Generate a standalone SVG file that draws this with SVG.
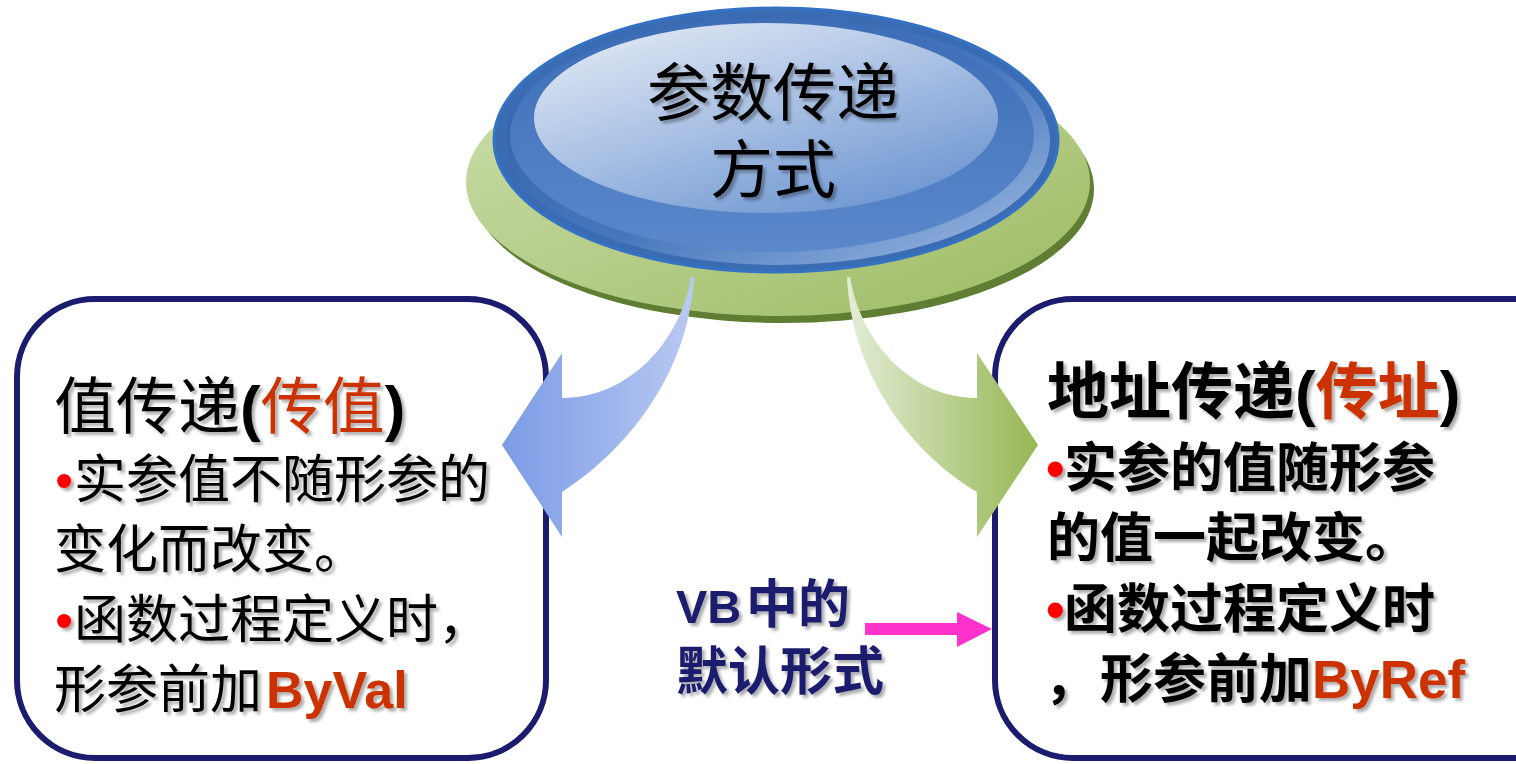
<svg xmlns="http://www.w3.org/2000/svg" width="1516" height="764" viewBox="0 0 1516 764">
<defs>
<style>
.cjk{font-family:"Noto Sans CJK SC","Noto Sans",sans-serif;fill:#000}
.lat{font-family:"Liberation Sans",Arial,sans-serif;font-weight:bold}
.red{fill:#cc3300}
.bul{fill:#ff0000;font-family:"Liberation Sans",Arial,sans-serif}
.box{fill:#ffffff;stroke:#1c1c6e;stroke-width:6}
.mid{font-family:"Noto Sans CJK SC","Noto Sans",sans-serif;fill:#1c1c6e;font-weight:bold}
</style>
<filter id="sh" x="-10%" y="-10%" width="130%" height="140%">
<feDropShadow dx="3" dy="3" stdDeviation="1.5" flood-color="#000" flood-opacity="0.32"/>
</filter>
<linearGradient id="gGreen" x1="0" y1="0" x2="1" y2="1">
<stop offset="0" stop-color="#cddfae"/>
<stop offset="1" stop-color="#9dbb62"/>
</linearGradient>
<linearGradient id="gBevel" x1="0" y1="0" x2="1" y2="1">
<stop offset="0" stop-color="#2f5e9e"/>
<stop offset="0.55" stop-color="#4677bd"/>
<stop offset="1" stop-color="#a4bfe4"/>
</linearGradient>
<linearGradient id="gMid" x1="0" y1="0" x2="0" y2="1">
<stop offset="0" stop-color="#3c6db5"/>
<stop offset="1" stop-color="#5a88cb"/>
</linearGradient>
<linearGradient id="gHi" x1="0.1" y1="0" x2="0.8" y2="1">
<stop offset="0" stop-color="#e4ebf5"/>
<stop offset="0.5" stop-color="#a8c0e4"/>
<stop offset="1" stop-color="#6a94d0"/>
</linearGradient>
<linearGradient id="gArrL" gradientUnits="userSpaceOnUse" x1="502" y1="0" x2="694" y2="0">
<stop offset="0" stop-color="#7b9be6"/>
<stop offset="1" stop-color="#b9caf2"/>
</linearGradient>
<linearGradient id="gArrR" gradientUnits="userSpaceOnUse" x1="847" y1="0" x2="1038" y2="0">
<stop offset="0" stop-color="#e3edd7"/>
<stop offset="1" stop-color="#97b753"/>
</linearGradient>
</defs>

<g id="box-left">
<rect class="box" x="17" y="299" width="529" height="459" rx="78"/>
<g filter="url(#sh)">
<text class="cjk" x="54" y="429" font-size="62">值传递<tspan class="lat">(</tspan><tspan class="red">传值</tspan><tspan class="lat">)</tspan></text>
<text class="cjk" y="498" font-size="52"><tspan class="bul" x="55">•</tspan><tspan x="74">实参值不随形参的</tspan></text>
<text class="cjk" x="54" y="568" font-size="52">变化而改变。</text>
<text class="cjk" y="638" font-size="52"><tspan class="bul" x="55">•</tspan><tspan x="74">函数过程定义时，</tspan></text>
<text class="cjk" y="708" font-size="52"><tspan x="54">形参前加</tspan><tspan class="lat red" x="266">ByVal</tspan></text>
</g>
</g>

<g id="box-right">
<rect class="box" x="995" y="299" width="600" height="459" rx="78"/>
<g filter="url(#sh)">
<text class="cjk" x="1047" y="414" font-size="62" font-weight="bold">地址传递<tspan class="lat">(</tspan><tspan class="red">传址</tspan><tspan class="lat">)</tspan></text>
<text class="cjk" y="487" font-size="53" font-weight="bold"><tspan class="bul" x="1046">•</tspan><tspan x="1064">实参的值随形参</tspan></text>
<text class="cjk" x="1047" y="557" font-size="53" font-weight="bold">的值一起改变。</text>
<text class="cjk" y="628" font-size="53" font-weight="bold"><tspan class="bul" x="1046">•</tspan><tspan x="1064">函数过程定义时</tspan></text>
<text class="cjk" y="698" font-size="53" font-weight="bold"><tspan x="1044">，</tspan><tspan x="1100">形参前加</tspan><tspan class="lat red">ByRef</tspan></text>
</g>
</g>

<g id="disc">
<ellipse cx="783" cy="189" rx="311" ry="134" fill="#5f7d33"/>
<ellipse cx="778" cy="182" rx="312" ry="134" fill="url(#gGreen)"/>
<ellipse cx="776" cy="140" rx="282" ry="132" fill="#3a6cb4" stroke="#3672c4" stroke-width="3"/>
<ellipse cx="778" cy="141" rx="272" ry="124" fill="url(#gBevel)"/>
<ellipse cx="772" cy="135" rx="262" ry="117" fill="url(#gMid)"/>
<ellipse cx="766" cy="118" rx="232" ry="95" fill="url(#gHi)"/>
<g filter="url(#sh)">
<text class="cjk" x="773" y="115" font-size="63" text-anchor="middle">参数传递</text>
<text class="cjk" x="773" y="192" font-size="63" text-anchor="middle">方式</text>
</g>
</g>

<g id="connectors">
<path d="M691,277 C681,340 630,398 562,398 L562,353 L502,445 L562,537 L562,492 C620,455 688,380 694,277 Z" fill="url(#gArrL)"/>
<path d="M850,277 C860,340 910,398 977,398 L977,353 L1038,445 L977,537 L977,492 C915,455 852,380 847,277 Z" fill="url(#gArrR)"/>
<path d="M865,623 L957,623 L957,612 L992,629 L957,647 L957,635 L865,635 Z" fill="#ff33cc"/>
</g>

<g id="note" filter="url(#sh)">
<text class="mid" y="623" font-size="52"><tspan class="lat" x="676" font-size="47">VB</tspan><tspan x="746">中的</tspan></text>
<text class="mid" x="676" y="690" font-size="52">默认形式</text>
</g>
</svg>
